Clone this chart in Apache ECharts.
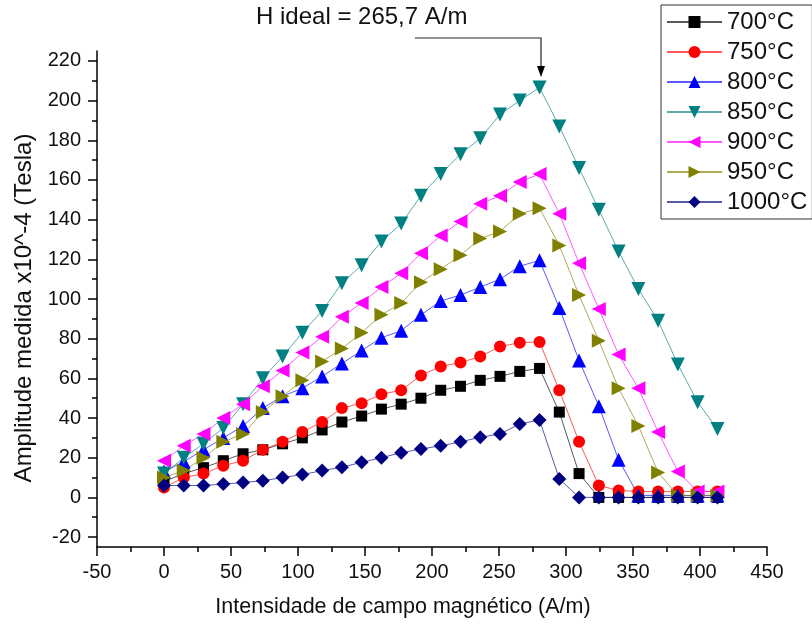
<!DOCTYPE html>
<html>
<head>
<meta charset="utf-8">
<script src="https://cdn.jsdelivr.net/npm/echarts@6/dist/echarts.min.js"></script>
<style>
  html, body { margin: 0; padding: 0; background: #fff; }
  #grafico { width: 812px; height: 625px; }
</style>
</head>
<body>
<div id="grafico"></div>
<script>
// campo magnético (A/m)
var campo = [0, 14.75, 29.5, 44.25, 59, 73.75, 88.5, 103.25, 118, 132.75, 147.5, 162.25, 177, 191.75,
  206.5, 221.25, 236, 250.75, 265.5, 280.25, 295, 309.75, 324.5, 339.25, 354, 368.75, 383.5, 398.25, 413];

var amp700 = [8, 12, 15, 18.5, 22, 24, 27, 30, 34, 38, 41, 44.5, 47, 50, 54, 56, 59, 61, 63.5, 65,
  43, 12, 0, 0, 0, 0, 0, 0, 0];
var amp750 = [5, 10, 12, 16, 18.5, 24, 28, 33, 38, 45, 47.5, 52, 54, 61.5, 66, 68, 71, 76, 78, 78.3,
  54, 28, 6, 3.5, 3, 3, 3, 3, 3];
var amp800 = [13, 18, 24, 30, 36, 45, 51, 55, 61, 67.5, 74, 80.5, 84, 92, 99, 102, 106, 110, 116.5, 119.5,
  95.5, 69, 46, 19, 1, 1, 1, 1, 1];
var amp850 = [12, 20, 27, 35, 47, 60, 71, 83, 94, 108, 117, 129, 138, 152, 163, 173, 181, 193, 200, 206.6,
  187, 166, 145, 124, 105, 89, 67, 48, 34.5];
var amp900 = [18.5, 26, 32, 40, 47, 56, 64, 73, 81, 91, 98, 106, 113, 123, 132, 139, 148, 152, 159, 163,
  143, 118, 95, 72, 55, 33, 13, 3, 3];
var amp950 = [10, 13.5, 20, 28, 32, 43, 51, 59, 68.5, 75, 83, 92, 98, 108.5, 115, 122, 130.5, 134, 143, 145.7,
  127, 102, 79, 55, 36, 12.6, 1, 1, 1];
var amp1000 = [6, 6, 6, 6.7, 7.5, 8.4, 10, 11.5, 13.5, 15.2, 17.7, 20, 22.5, 24.4, 26, 28, 30.3, 32, 37, 39,
  9.3, 0, 0, 0, 0, 0, 0, 0, 0];

var temperaturas = ['700°C', '750°C', '800°C', '850°C', '900°C', '950°C', '1000°C'];
var ticksY = [-20, 0, 20, 40, 60, 80, 100, 120, 140, 160, 180, 200, 220];
var ticksYMenores = [-10, 10, 30, 50, 70, 90, 110, 130, 150, 170, 190, 210];

var fonte = '"Liberation Sans", Arial, sans-serif';

function pares(valores) {
  return campo.map(function (x, i) { return [x, valores[i]]; });
}

function serie(nome, valores, cor, simbolo, tamanho) {
  return {
    name: nome,
    type: 'line',
    data: pares(valores),
    symbol: simbolo,
    symbolSize: tamanho,
    itemStyle: { color: cor, opacity: 1 },
    lineStyle: { color: cor, width: 1, opacity: 0.65 },
    emphasis: { disabled: true },
    animation: false
  };
}

var chart = echarts.init(document.getElementById('grafico'));

var option = {
  backgroundColor: '#fff',
  textStyle: { fontFamily: fonte },
  grid: { left: 97, right: 45, top: 51, bottom: 78 },
  legend: {
    orient: 'vertical',
    left: 661,
    top: 5,
    padding: [5, 5, 5, 5],
    itemGap: 6,
    itemWidth: 55,
    itemHeight: 15,
    borderColor: '#333',
    borderWidth: 1,
    borderRadius: 0,
    textStyle: { fontFamily: fonte, fontSize: 24, color: '#111', lineHeight: 24 },
    data: temperaturas
  },
  xAxis: {
    type: 'value',
    min: -50,
    max: 450,
    interval: 50,
    name: 'Intensidade de campo magnético (A/m)',
    nameLocation: 'middle',
    nameGap: 49,
    nameTextStyle: { fontFamily: fonte, fontSize: 21.5, color: '#111', padding: [0, 58, 0, 0] },
    axisLine: { onZero: false, lineStyle: { color: '#000', width: 1.5 } },
    axisTick: { length: 9, lineStyle: { color: '#000', width: 1.5 } },
    minorTick: { show: true, splitNumber: 2, length: 5, lineStyle: { color: '#000', width: 1.5 } },
    axisLabel: { fontFamily: fonte, fontSize: 20, color: '#111', margin: 15 },
    splitLine: { show: false }
  },
  yAxis: [{
    type: 'value',
    min: -25,
    max: 225,
    name: 'Amplitude medida x10^-4 (Tesla)',
    nameLocation: 'middle',
    nameGap: 61,
    nameTextStyle: { fontFamily: fonte, fontSize: 24, color: '#111', padding: [0, 0, 0, -18] },
    axisLine: { onZero: false, lineStyle: { color: '#000', width: 1.5 } },
    axisTick: { length: 9, customValues: ticksY, lineStyle: { color: '#000', width: 1.5 } },
    axisLabel: { fontFamily: fonte, fontSize: 20, color: '#111', margin: 16, customValues: ticksY },
    splitLine: { show: false }
  }, {
    type: 'value',
    position: 'left',
    min: -25,
    max: 225,
    axisLine: { show: false, onZero: false },
    axisTick: { length: 5, customValues: ticksYMenores, lineStyle: { color: '#000', width: 1.5 } },
    axisLabel: { show: false },
    splitLine: { show: false }
  }],
  series: [
    serie('700°C', amp700, '#000000', 'rect', 11),
    serie('750°C', amp750, '#ff0000', 'circle', 12),
    serie('800°C', amp800, '#0000ff', 'triangle', 14),
    serie('850°C', amp850, '#008080', 'path://M0,0 L10,0 L5,9 Z', 14),
    serie('900°C', amp900, '#ff00ff', 'path://M9,0 L9,10 L0,5 Z', 14),
    serie('950°C', amp950, '#808000', 'path://M0,0 L0,10 L9,5 Z', 14),
    serie('1000°C', amp1000, '#000080', 'diamond', 14)
  ],
  graphic: [
    {
      type: 'text',
      left: 256,
      top: 5,
      style: { text: 'H ideal = 265,7 A/m', font: '24px ' + fonte, fill: '#111' }
    },
    {
      type: 'polyline',
      shape: { points: [[415, 38], [541, 38], [541, 70]] },
      style: { stroke: '#222', lineWidth: 1.2, fill: null }
    },
    {
      type: 'polygon',
      shape: { points: [[537, 66], [545, 66], [541, 77]] },
      style: { fill: '#000' }
    }
  ]
};

chart.setOption(option);
</script>
</body>
</html>
